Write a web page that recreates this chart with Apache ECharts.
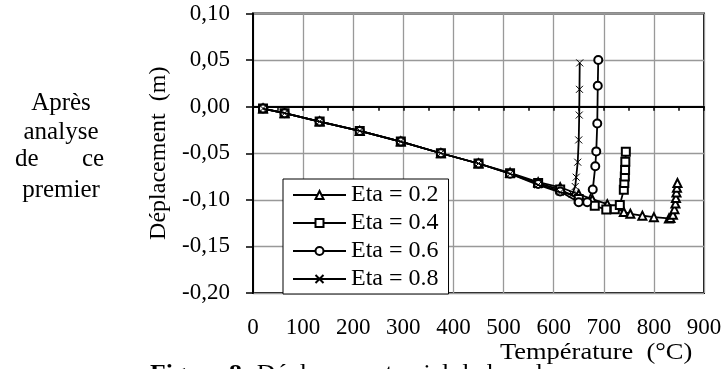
<!DOCTYPE html>
<html><head><meta charset="utf-8">
<script src="https://cdn.jsdelivr.net/npm/echarts@6/dist/echarts.min.js"></script>
<style>html,body{margin:0;padding:0;background:#fff}#c{width:727px;height:369px}</style>
</head><body><div id="c"></div>
<script>
var seriesNames = ['Eta = 0.2', 'Eta = 0.4', 'Eta = 0.6', 'Eta = 0.8'];
var xTicks = [0, 100, 200, 300, 400, 500, 600, 700, 800, 900];
var yTicks = [-0.20, -0.15, -0.10, -0.05, 0.00, 0.05, 0.10];

var tEta02 = [20, 63, 133, 213, 295, 375, 450, 513, 569, 613, 650, 677, 707, 740, 753, 777, 800, 830, 833, 838, 841, 843, 844, 845, 846, 847];
var dEta02 = [-0.002, -0.007, -0.016, -0.026, -0.0375, -0.05, -0.061, -0.071, -0.081, -0.0865, -0.094, -0.0993, -0.1046, -0.113, -0.115, -0.117, -0.1186, -0.120, -0.1195, -0.116, -0.110, -0.104, -0.098, -0.092, -0.087, -0.082];

var tEta04 = [20, 63, 133, 213, 295, 375, 450, 513, 569, 613, 650, 682, 705, 722, 732, 740, 741, 742, 742.5, 743, 744];
var dEta04 = [-0.002, -0.007, -0.016, -0.026, -0.0375, -0.05, -0.061, -0.0715, -0.082, -0.089, -0.099, -0.1064, -0.1105, -0.110, -0.1055, -0.0893, -0.082, -0.075, -0.068, -0.059, -0.0484];

var tEta06 = [20, 63, 133, 213, 295, 375, 450, 513, 569, 613, 650, 667, 678, 683, 685, 687, 688, 689];
var dEta06 = [-0.002, -0.007, -0.016, -0.026, -0.0375, -0.05, -0.061, -0.072, -0.083, -0.091, -0.1025, -0.1025, -0.089, -0.064, -0.048, -0.018, 0.0225, 0.05];

var tEta08 = [20, 63, 133, 213, 295, 375, 450, 513, 569, 613, 637, 643, 645, 648, 650, 651, 651.5, 652];
var dEta08 = [-0.002, -0.007, -0.016, -0.026, -0.0375, -0.05, -0.061, -0.072, -0.084, -0.092, -0.094, -0.0857, -0.0757, -0.0596, -0.0357, -0.009, 0.0186, 0.047];

function pairs(t, d) { return t.map(function (v, i) { return [v, d[i]]; }); }

var FONT = '"Liberation Serif", "DejaVu Serif", serif';
var symbols = ['emptyTriangle', 'emptyRect', 'emptyCircle', 'path://M0,0L10,10M10,0L0,10'];
var datasets = [pairs(tEta02, dEta02), pairs(tEta04, dEta04), pairs(tEta06, dEta06), pairs(tEta08, dEta08)];

function txt(x, y, s, font, sx, align) {
  return { type: 'text', x: x, y: y, scaleX: sx || 1, z: 10,
    style: { text: s, font: font + ' ' + FONT, fill: '#000', textAlign: align || 'left', textVerticalAlign: 'middle' } };
}

var chart = echarts.init(document.getElementById('c'), null, { renderer: 'canvas' });
chart.setOption({
  animation: false,
  backgroundColor: '#fff',
  grid: { left: 253, top: 13.5, right: 23, bottom: 76, show: true, borderColor: '#111', borderWidth: 2, backgroundColor: 'transparent' },
  legend: {
    orient: 'vertical', left: 283, top: 179,
    backgroundColor: '#fff', borderColor: '#000', borderWidth: 1,
    padding: [4, 10, 3, 9], itemGap: 4, itemWidth: 53, itemHeight: 10,
    textStyle: { fontFamily: FONT, fontSize: 24, color: '#000', lineHeight: 21 },
    data: seriesNames
  },
  xAxis: {
    type: 'value', min: 0, max: 900, interval: 100,
    axisLine: { show: true, lineStyle: { color: '#000', width: 2 } },
    axisTick: { show: true, inside: false, length: 4, lineStyle: { color: '#000', width: 1.5 } },
    minorTick: { show: true, splitNumber: 2, length: 4, lineStyle: { color: '#000', width: 1.5 } },
    splitLine: { show: true, lineStyle: { color: '#999', width: 1.3 } },
    axisLabel: { margin: 23, fontFamily: FONT, fontSize: 23, color: '#000',
      formatter: function (v) { return xTicks.indexOf(v) >= 0 ? String(v) : ''; } }
  },
  yAxis: {
    type: 'value', min: -0.20, max: 0.10, interval: 0.05,
    name: 'Déplacement  (m)', nameLocation: 'middle', nameGap: 78, nameRotate: 90,
    nameTextStyle: { fontFamily: FONT, fontSize: 24, color: '#000' },
    axisLine: { show: true, lineStyle: { color: '#000', width: 2 } },
    axisTick: { show: true, inside: false, length: 7, lineStyle: { color: '#000', width: 1.5 } },
    splitLine: { show: true, lineStyle: { color: '#999', width: 1.3 } },
    axisLabel: { margin: 23, fontFamily: FONT, fontSize: 23, color: '#000',
      formatter: function (v) {
        var best = yTicks.reduce(function (a, b) { return Math.abs(b - v) < Math.abs(a - v) ? b : a; });
        if (Math.abs(best) < 1e-9) return '0,00';
        return best.toFixed(2).replace('.', ',');
      } }
  },
  series: seriesNames.map(function (n, i) {
    return {
      name: n, type: 'line', data: datasets[i],
      symbol: symbols[i], symbolSize: i === 3 ? 7 : 8, showAllSymbol: true,
      lineStyle: { color: '#000', width: 1.8 },
      itemStyle: i === 3 ? { color: '#000', borderColor: '#000', borderWidth: 1 } : { color: '#000', borderWidth: 1 },
      z: 3 + i
    };
  }),
  graphic: [
    txt(61, 103, 'Après', '25px', 1, 'center'),
    txt(61, 132, 'analyse', '25px', 1, 'center'),
    txt(15, 159, 'de', '25px', 1, 'left'),
    txt(82, 159, 'ce', '25px', 1, 'left'),
    txt(61, 190, 'premier', '25px', 1, 'center'),
    txt(500, 353, 'Température  (°C)', '23px', 1.15, 'left'),
    { type: 'text', x: 150, y: 374, scaleX: 1.12, z: 9,
      style: { text: '{b|Figure 8:} Déplacement axial de la colonne', font: '23px ' + FONT, fill: '#000',
        textVerticalAlign: 'middle', rich: { b: { fontWeight: 'bold', fontFamily: FONT, fontSize: 23 } } } }
  ]
});
</script></body></html>
